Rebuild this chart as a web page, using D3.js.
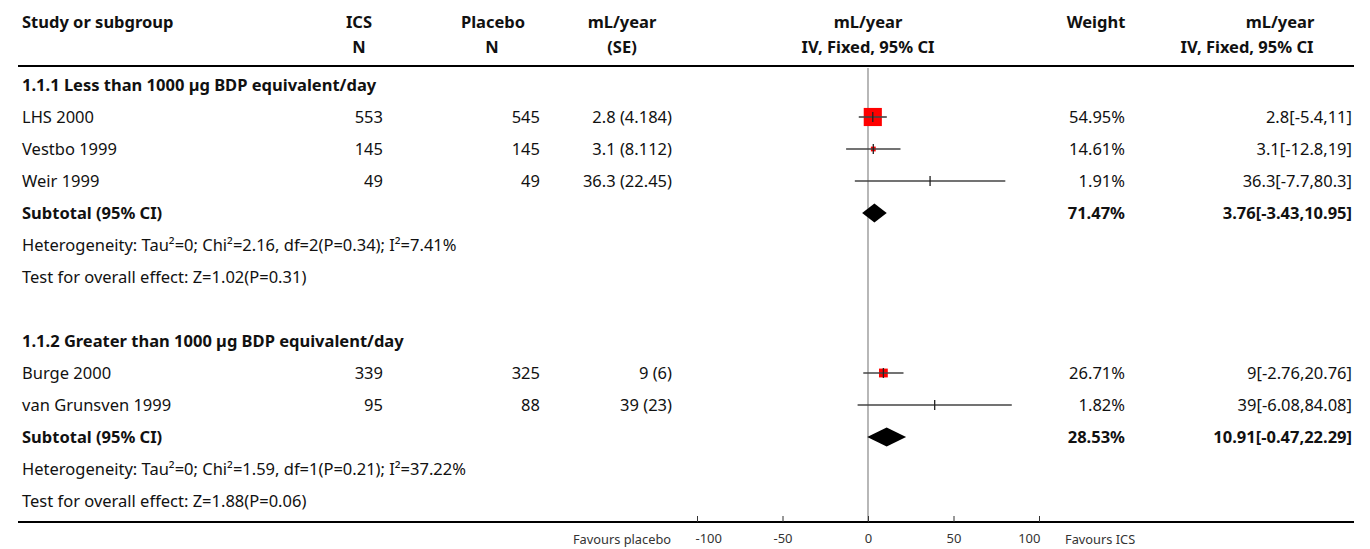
<!DOCTYPE html>
<html>
<head>
<meta charset="utf-8">
<script src="https://cdn.jsdelivr.net/npm/d3@7/dist/d3.min.js"></script>
<style>
  html, body { margin: 0; padding: 0; background: #fff; }
  svg { display: block; }
  text { font-family: "Noto Sans", Lato, sans-serif; fill: #111; }
</style>
</head>
<body>
<svg id="chart" width="1370" height="549"></svg>
<script>
// ---------- DATA ----------
const subgroups = ["1.1.1 Less than 1000 µg BDP equivalent/day", "1.1.2 Greater than 1000 µg BDP equivalent/day"];
const studies = ["LHS 2000", "Vestbo 1999", "Weir 1999", "Burge 2000", "van Grunsven 1999"];
const studyGroup = [0, 0, 0, 1, 1];
const icsN = [553, 145, 49, 339, 95];
const placeboN = [545, 145, 49, 325, 88];
const meanDiff = [2.8, 3.1, 36.3, 9, 39];
const stdErr = ["4.184", "8.112", "22.45", "6", "23"];
const ciLow = [-5.4, -12.8, -7.7, -2.76, -6.08];
const ciHigh = [11, 19, 80.3, 20.76, 84.08];
const weights = [54.95, 14.61, 1.91, 26.71, 1.82];
const subtotalMean = [3.76, 10.91];
const subtotalLow = [-3.43, -0.47];
const subtotalHigh = [10.95, 22.29];
const subtotalWeight = [71.47, 28.53];
const heterogeneity = [
  "Heterogeneity: Tau²=0; Chi²=2.16, df=2(P=0.34); I²=7.41%",
  "Heterogeneity: Tau²=0; Chi²=1.59, df=1(P=0.21); I²=37.22%"
];
const overallEffect = ["Test for overall effect: Z=1.02(P=0.31)", "Test for overall effect: Z=1.88(P=0.06)"];
const axisTicks = [-100, -50, 0, 50, 100];
const headerTop = ["Study or subgroup", "ICS", "Placebo", "mL/year", "mL/year", "Weight", "mL/year"];
const headerBottom = ["", "N", "N", "(SE)", "IV, Fixed, 95% CI", "", "IV, Fixed, 95% CI"];
const favourLeft = "Favours placebo";
const favourRight = "Favours ICS";

// ---------- LAYOUT ----------
const svg = d3.select("#chart");
const FS = 16.5;
const x = d3.scaleLinear().domain([-100, 100]).range([697, 1039]);
const rowY = d3.scaleLinear().domain([0, 13]).range([85, 85 + 13 * 32]);
const axisY = 522, headerLineY = 66;
const colLeft = 22, colIcs = 383, colPl = 540, colSe = 672, colW = 1125, colCi = 1352;
const fmtW = d => d.toFixed(2) + "%";

// build rows
const rows = [];
let r = 0;
subgroups.forEach((g, gi) => {
  rows.push({type: "group", idx: gi, row: r++});
  studies.forEach((s, si) => { if (studyGroup[si] === gi) rows.push({type: "study", idx: si, row: r++}); });
  rows.push({type: "subtotal", idx: gi, row: r++});
  rows.push({type: "het", idx: gi, row: r++});
  rows.push({type: "test", idx: gi, row: r++});
  if (gi < subgroups.length - 1) r++;
});

// header
const hx = [22, 359, 493, 622, 868, 1096, 1280];
const hx2 = [22, 359, 492, 622, 868, 1096, 1247];
headerTop.forEach((t, i) => {
  svg.append("text").attr("x", hx[i]).attr("y", 22).attr("dy", "0.35em")
    .attr("text-anchor", i === 0 ? "start" : "middle")
    .attr("font-weight", "bold").attr("font-size", FS).text(t);
});
headerBottom.forEach((t, i) => {
  if (!t) return;
  svg.append("text").attr("x", hx2[i]).attr("y", 47).attr("dy", "0.35em")
    .attr("text-anchor", "middle")
    .attr("font-weight", "bold").attr("font-size", FS).text(t);
});
svg.append("line").attr("x1", 18).attr("x2", 1354).attr("y1", headerLineY).attr("y2", headerLineY)
  .attr("stroke", "#000").attr("stroke-width", 2);

// zero line
svg.append("line").attr("x1", x(0)).attr("x2", x(0)).attr("y1", headerLineY + 2).attr("y2", axisY)
  .attr("stroke", "#888").attr("stroke-width", 1.2);

function txt(xp, y, t, anchor, bold) {
  svg.append("text").attr("x", xp).attr("y", y).attr("dy", "0.35em")
    .attr("text-anchor", anchor).attr("font-size", FS)
    .attr("font-weight", bold ? "bold" : "normal").text(t);
}

rows.forEach(d => {
  const y = rowY(d.row);
  if (d.type === "group") {
    txt(colLeft, y, subgroups[d.idx], "start", true);
  } else if (d.type === "study") {
    const i = d.idx;
    txt(colLeft, y, studies[i], "start", false);
    txt(colIcs, y, icsN[i], "end", false);
    txt(colPl, y, placeboN[i], "end", false);
    txt(colSe, y, meanDiff[i] + " (" + stdErr[i] + ")", "end", false);
    txt(colW, y, fmtW(weights[i]), "end", false);
    txt(colCi, y, meanDiff[i] + "[" + ciLow[i] + "," + ciHigh[i] + "]", "end", false);
    const s = weights[i] * 0.33;
    svg.append("rect").attr("x", x(meanDiff[i]) - s / 2).attr("y", y - s / 2)
      .attr("width", s).attr("height", s).attr("fill", "#ff0000");
    svg.append("line").attr("x1", x(ciLow[i])).attr("x2", x(ciHigh[i])).attr("y1", y).attr("y2", y)
      .attr("stroke", "#444").attr("stroke-width", 1.6);
    svg.append("line").attr("x1", x(meanDiff[i])).attr("x2", x(meanDiff[i])).attr("y1", y - 5).attr("y2", y + 5)
      .attr("stroke", "#222").attr("stroke-width", 1.3);
  } else if (d.type === "subtotal") {
    const i = d.idx;
    txt(colLeft, y, "Subtotal (95% CI)", "start", true);
    txt(colW, y, fmtW(subtotalWeight[i]), "end", true);
    txt(colCi, y, subtotalMean[i] + "[" + subtotalLow[i] + "," + subtotalHigh[i] + "]", "end", true);
    const h = 9.5;
    svg.append("path")
      .attr("d", `M${x(subtotalLow[i])},${y} L${x(subtotalMean[i])},${y - h} L${x(subtotalHigh[i])},${y} L${x(subtotalMean[i])},${y + h} Z`)
      .attr("fill", "#000");
  } else if (d.type === "het") {
    txt(colLeft, y, heterogeneity[d.idx], "start", false);
  } else if (d.type === "test") {
    txt(colLeft, y, overallEffect[d.idx], "start", false);
  }
});

// bottom axis line
svg.append("line").attr("x1", 18).attr("x2", 1354).attr("y1", axisY).attr("y2", axisY)
  .attr("stroke", "#000").attr("stroke-width", 2);
const axisG = svg.append("g").attr("transform", `translate(0,${axisY})`)
  .call(d3.axisTop(x).tickValues(axisTicks).tickSize(6).tickFormat(d => String(d)));
axisG.select(".domain").remove();
axisG.selectAll(".tick line").attr("stroke", "#333");
const lastTick = axisTicks.length - 1;
axisG.selectAll(".tick text").attr("y", 16).attr("dy", "0.35em").attr("font-size", 13)
  .attr("font-family", "'Noto Sans', sans-serif").style("fill", "#333")
  .attr("text-anchor", (d, i) => i === 0 ? "start" : (i === lastTick ? "end" : "middle"))
  .attr("x", (d, i) => i === 0 ? -2 : (i === lastTick ? 1 : 0));

svg.append("text").attr("x", 671).attr("y", 540).attr("dy", "0.35em").attr("text-anchor", "end")
  .attr("font-size", 12.8).style("fill", "#333").text(favourLeft);
svg.append("text").attr("x", 1065).attr("y", 540).attr("dy", "0.35em").attr("text-anchor", "start")
  .attr("font-size", 12.8).style("fill", "#333").text(favourRight);
</script>
</body>
</html>
